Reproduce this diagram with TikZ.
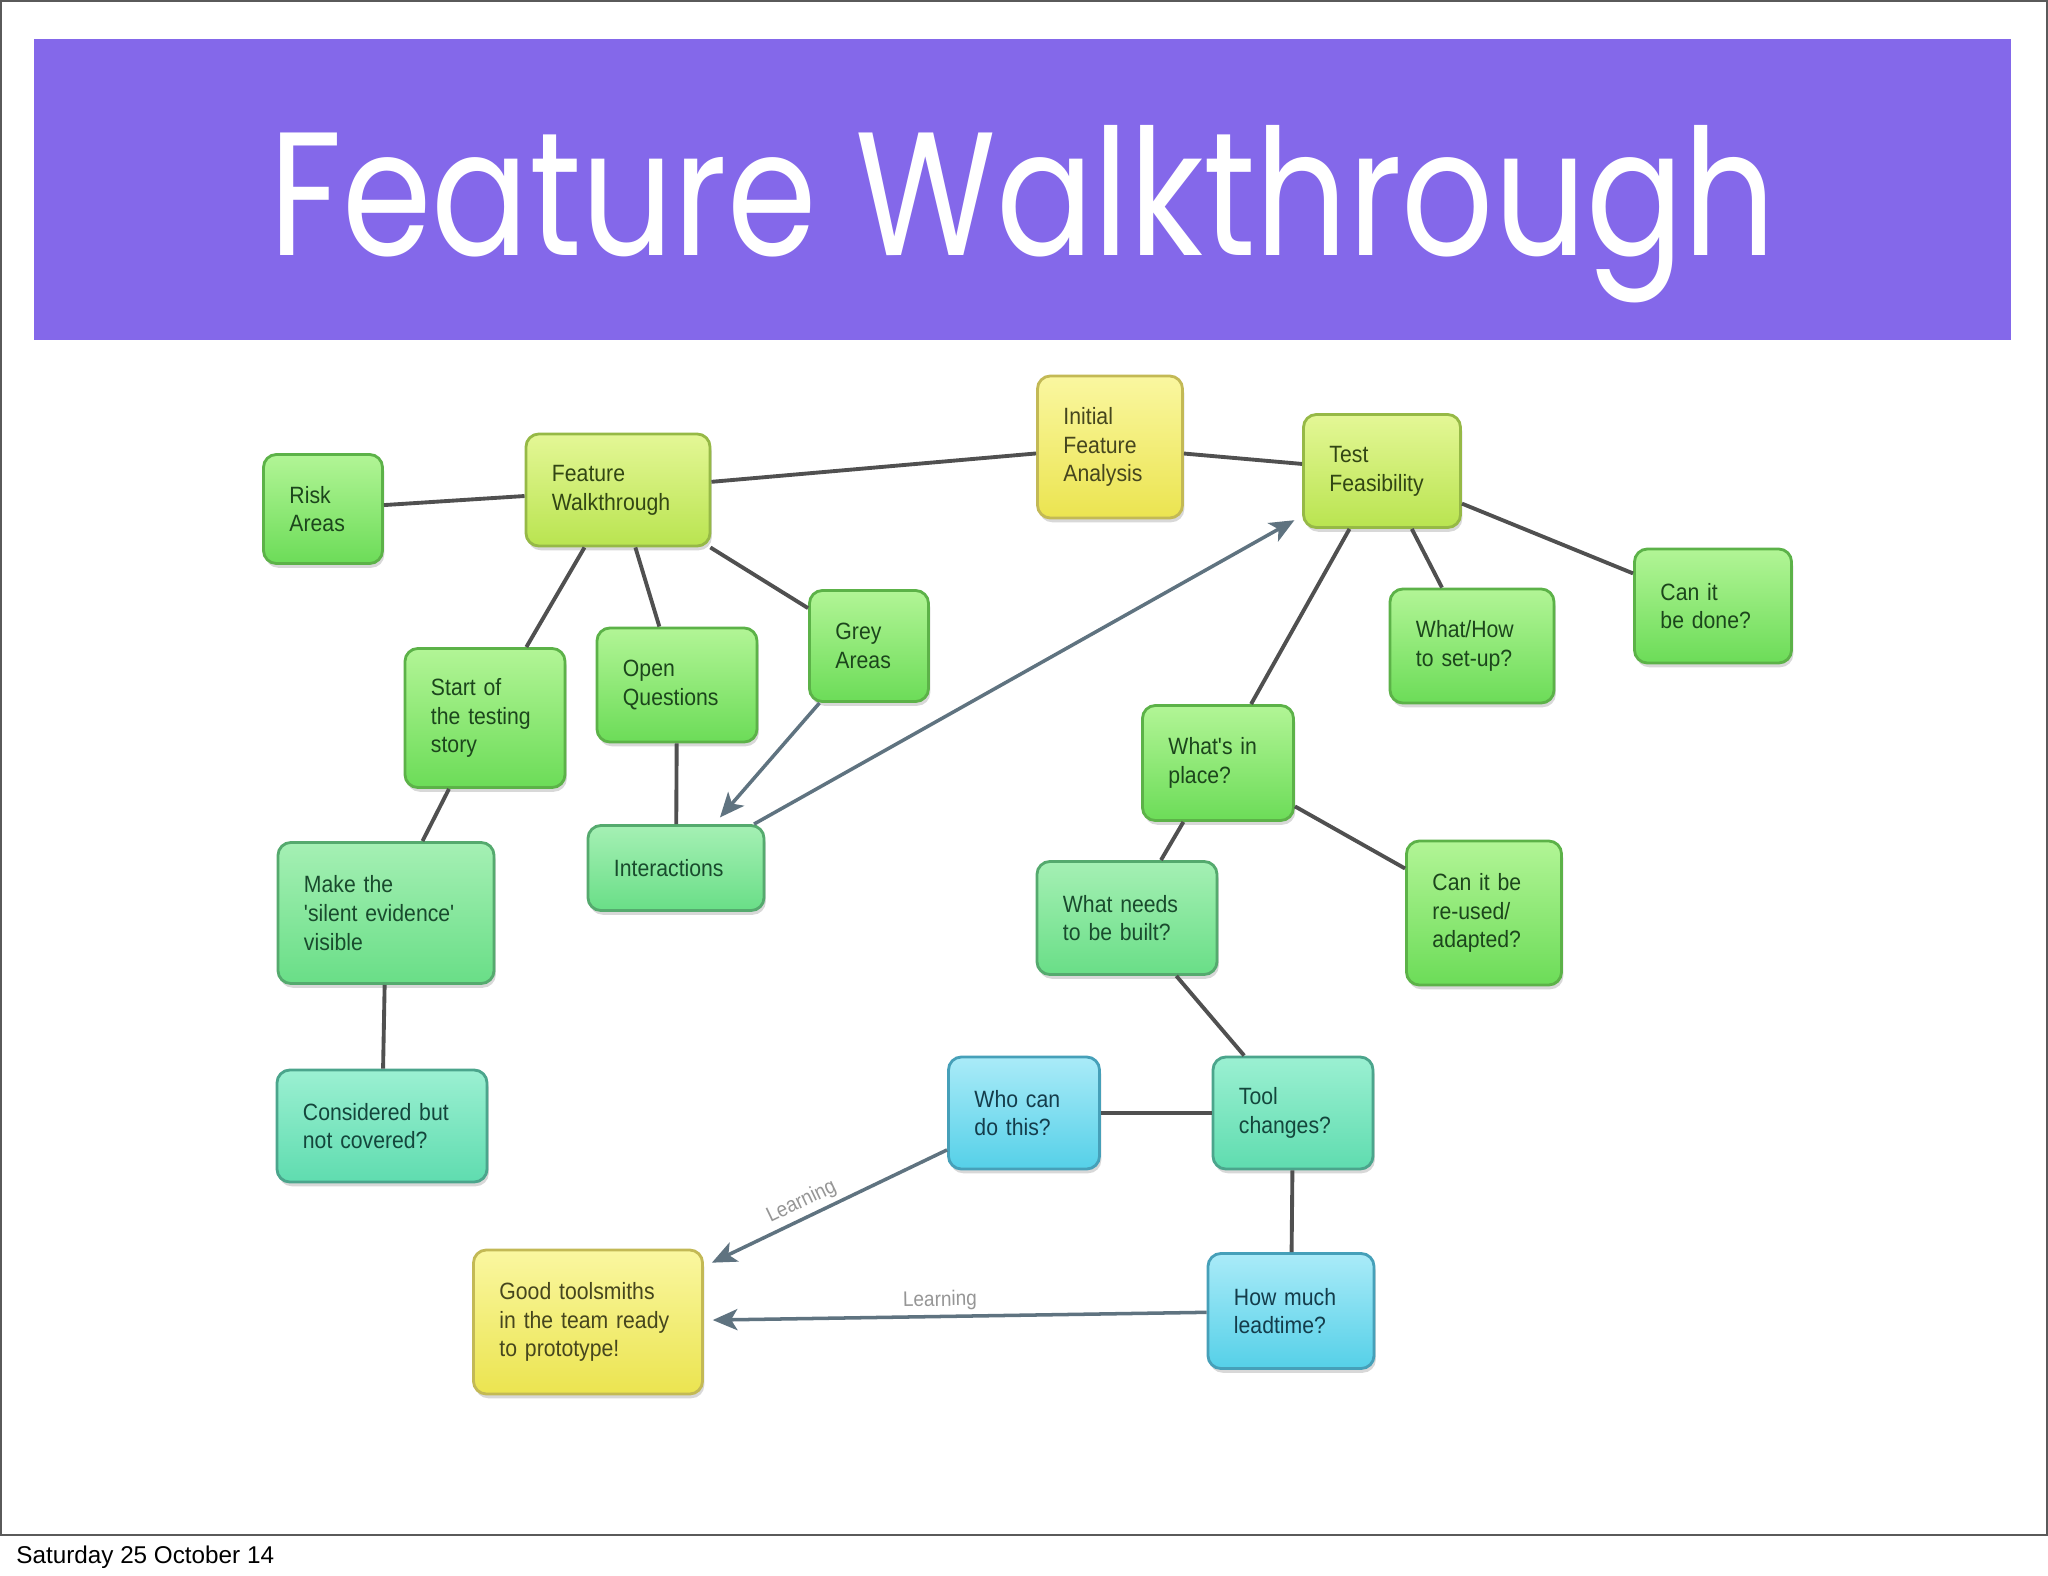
\documentclass[tikz,border=0pt]{standalone}
\usepackage{fontspec}
\setmainfont{Liberation Sans}
\newfontfamily\boxfont[FakeStretch=0.9]{Liberation Sans}
\newfontfamily\titlefont[FakeStretch=0.82]{Poppins}
\usepackage{tikz}
\usetikzlibrary{arrows.meta,shadows}
\definecolor{banner}{RGB}{132,104,234}
\definecolor{framegray}{RGB}{90,90,90}
\definecolor{linkgray}{RGB}{80,80,80}
\definecolor{flowblue}{RGB}{95,115,128}
\definecolor{learngray}{RGB}{150,150,150}
\definecolor{greentop}{RGB}{178,245,150}
\definecolor{greenbot}{RGB}{108,220,88}
\definecolor{greenedge}{RGB}{92,178,72}
\definecolor{greentext}{RGB}{28,70,28}
\definecolor{limetop}{RGB}{228,247,150}
\definecolor{limebot}{RGB}{185,228,80}
\definecolor{limeedge}{RGB}{150,185,70}
\definecolor{limetext}{RGB}{50,70,20}
\definecolor{yellowtop}{RGB}{250,247,160}
\definecolor{yellowbot}{RGB}{235,228,80}
\definecolor{yellowedge}{RGB}{195,185,85}
\definecolor{yellowtext}{RGB}{70,70,30}
\definecolor{minttop}{RGB}{165,240,180}
\definecolor{mintbot}{RGB}{105,222,135}
\definecolor{mintedge}{RGB}{85,170,110}
\definecolor{minttext}{RGB}{25,75,45}
\definecolor{tealtop}{RGB}{155,240,210}
\definecolor{tealbot}{RGB}{95,220,175}
\definecolor{tealedge}{RGB}{75,165,140}
\definecolor{tealtext}{RGB}{20,70,60}
\definecolor{cyantop}{RGB}{170,235,248}
\definecolor{cyanbot}{RGB}{85,208,232}
\definecolor{cyanedge}{RGB}{70,160,185}
\definecolor{cyantext}{RGB}{20,60,75}

\begin{document}
\begin{tikzpicture}[x=0.01cm,y=-0.01cm,
    every node/.style={font=\boxfont\fontsize{6.7}{8.2}\selectfont},
    box/.style={rectangle,rounded corners=0.13cm,line width=0.8pt,inner xsep=0.26cm,inner ysep=0.1cm,align=left,
      drop shadow={shadow xshift=0.5pt,shadow yshift=-1.2pt,opacity=0.25,fill=black!60}},
    greenbox/.style={draw=greenedge,top color=greentop,bottom color=greenbot,text=greentext},
    limebox/.style={draw=limeedge,top color=limetop,bottom color=limebot,text=limetext},
    yellowbox/.style={draw=yellowedge,top color=yellowtop,bottom color=yellowbot,text=yellowtext},
    mintbox/.style={draw=mintedge,top color=minttop,bottom color=mintbot,text=minttext},
    tealbox/.style={draw=tealedge,top color=tealtop,bottom color=tealbot,text=tealtext},
    cyanbox/.style={draw=cyanedge,top color=cyantop,bottom color=cyanbot,text=cyantext},
    link/.style={draw=linkgray,line width=1.1pt},
    flow/.style={draw=flowblue,line width=1pt,-{Stealth[length=7pt,width=6pt,inset=1.8pt]},shorten >=2.5pt},
    learn/.style={text=learngray,inner sep=1.2pt,font=\boxfont\fontsize{6}{7}\selectfont}]
      \useasboundingbox (0,0) rectangle (2048,1576);
      \fill[white] (0,0) rectangle (2048,1576);
      \draw[framegray,line width=0.6pt] (1,1) rectangle (2047,1535);
      \fill[banner] (34,39) rectangle (2011,340);
      \node[anchor=base,text=white,font=\titlefont\fontsize{50}{60}\selectfont] (title) at (1023,255) {Feature Walkthrough};
      \node[anchor=base west,font=\rmfamily\fontsize{6.9}{8.5}\selectfont] (date) at (4,1563) {Saturday 25 October 14};

      \node[box,greenbox,text width=0.67cm,minimum height=1.09cm] (risk) at (323,509) {Risk\\Areas};
      \node[box,limebox,text width=1.32cm,minimum height=1.12cm] (walk) at (618,490) {Feature\\Walkthrough};
      \node[box,yellowbox,text width=0.93cm,minimum height=1.42cm] (initial) at (1110,447) {Initial\\Feature\\Analysis};
      \node[box,limebox,text width=1.05cm,minimum height=1.13cm] (feas) at (1382,471) {Test\\Feasibility};
      \node[box,greenbox,text width=1.05cm,minimum height=1.14cm] (done) at (1713,606) {Can it\\be done?};
      \node[box,greenbox,text width=1.12cm,minimum height=1.14cm] (setup) at (1472,646) {What/How\\to set-up?};
      \node[box,greenbox,text width=0.67cm,minimum height=1.11cm] (grey) at (869,646) {Grey\\Areas};
      \node[box,greenbox,text width=1.08cm,minimum height=1.14cm] (open) at (677,685) {Open\\Questions};
      \node[box,greenbox,text width=1.08cm,minimum height=1.39cm] (start) at (485,718) {Start of\\the testing\\story};
      \node[box,greenbox,text width=0.99cm,minimum height=1.15cm] (inplace) at (1218,763) {What's in\\place?};
      \node[box,mintbox,text width=1.24cm,minimum height=0.85cm] (inter) at (676,868) {Interactions};
      \node[box,mintbox,text width=1.64cm,minimum height=1.41cm] (silent) at (386,913) {Make the\\'silent evidence'\\visible};
      \node[box,mintbox,text width=1.28cm,minimum height=1.13cm] (build) at (1127,918) {What needs\\to be built?};
      \node[box,greenbox,text width=1.03cm,minimum height=1.44cm] (reuse) at (1484,913) {Can it be\\re-used/\\adapted?};
      \node[box,tealbox,text width=1.58cm,minimum height=1.12cm] (covered) at (382,1126) {Considered but\\not covered?};
      \node[box,cyanbox,text width=0.99cm,minimum height=1.12cm] (who) at (1024,1113) {Who can\\do this?};
      \node[box,tealbox,text width=1.08cm,minimum height=1.12cm] (tool) at (1293,1113) {Tool\\changes?};
      \node[box,yellowbox,text width=1.77cm,minimum height=1.44cm] (smiths) at (588,1322) {Good toolsmiths\\in the team ready\\to prototype!};
      \node[box,cyanbox,text width=1.14cm,minimum height=1.15cm] (lead) at (1291,1311) {How much\\leadtime?};

      \draw[link] (risk) -- (walk);
      \draw[link] (walk) -- (initial);
      \draw[link] (initial) -- (feas);
      \draw[link] (walk) -- (start);
      \draw[link] (walk) -- (open);
      \draw[link] (walk) -- (grey);
      \draw[link] (open) -- (inter);
      \draw[link] (start) -- (silent);
      \draw[link] (silent) -- (covered);
      \draw[link] (feas) -- (inplace);
      \draw[link] (feas) -- (setup);
      \draw[link] (feas) -- (done);
      \draw[link] (inplace) -- (build);
      \draw[link] (inplace) -- (reuse);
      \draw[link] (build) -- (tool);
      \draw[link] (who) -- (tool);
      \draw[link] (tool) -- (lead);
      \draw[flow] (grey) -- (inter);
      \draw[flow] (inter) -- (feas);
      \draw[flow] (who) -- node[learn,pos=0.57,above,sloped] {Learning} (smiths);
      \draw[flow] (lead) -- node[learn,pos=0.53,above,sloped] {Learning} (smiths);
    \end{tikzpicture}
\end{document}
